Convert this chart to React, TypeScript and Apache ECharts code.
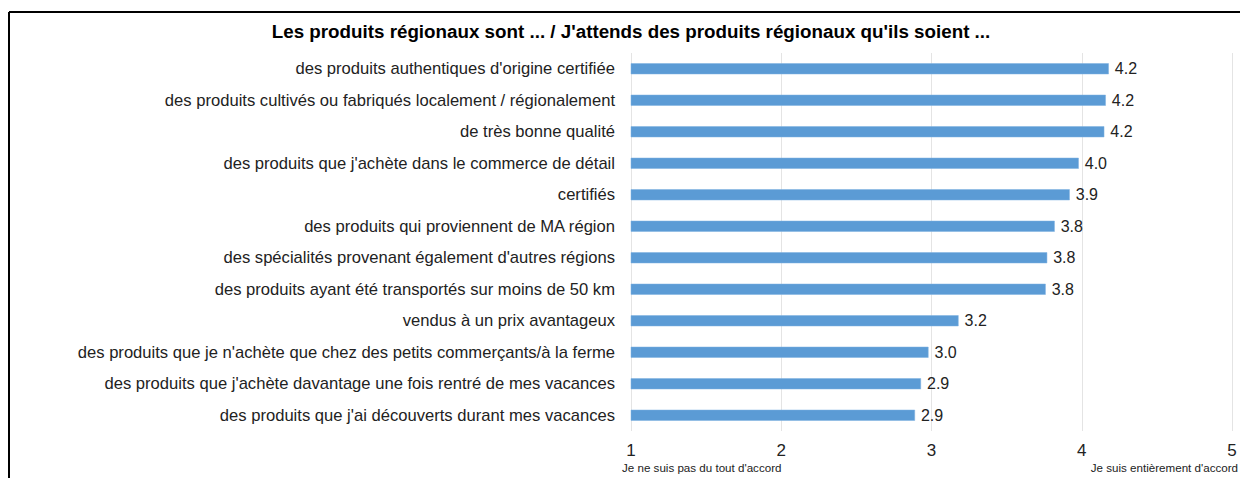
import React, { useEffect, useRef } from "react";
import * as echarts from "echarts";

const categories = [
  "des produits authentiques d'origine certifiée",
  "des produits cultivés ou fabriqués localement / régionalement",
  "de très bonne qualité",
  "des produits que j'achète dans le commerce de détail",
  "certifiés",
  "des produits qui proviennent de MA région",
  "des spécialités provenant également d'autres régions",
  "des produits ayant été transportés sur moins de 50 km",
  "vendus à un prix avantageux",
  "des produits que je n'achète que chez des petits commerçants/à la ferme",
  "des produits que j'achète davantage une fois rentré de mes vacances",
  "des produits que j'ai découverts durant mes vacances",
];

const values = [4.18, 4.16, 4.15, 3.98, 3.92, 3.82, 3.77, 3.76, 3.18, 2.98, 2.93, 2.89];

const tickValues = [1, 2, 3, 4, 5];
const title = "Les produits régionaux sont ... / J'attends des produits régionaux qu'ils soient ...";
const lowLabel = "Je ne suis pas du tout d'accord";
const highLabel = "Je suis entièrement d'accord";

const FONT = "'Liberation Sans', Arial, Helvetica, sans-serif";

export default function App() {
  const ref = useRef<HTMLDivElement>(null);
  useEffect(() => {
    document.body.style.margin = "0";
    if (!ref.current) return;
    const chart = echarts.init(ref.current, undefined, { renderer: "svg" });
    chart.setOption({
      animation: false,
      backgroundColor: "#ffffff",
      grid: { left: 631, right: 8, top: 53, bottom: 47, containLabel: false },
      xAxis: {
        type: "value",
        min: tickValues[0],
        max: tickValues[tickValues.length - 1],
        interval: 1,
        axisLine: { show: false },
        axisTick: { show: false },
        splitLine: { show: true, lineStyle: { color: "#e4e4e4", width: 1 } },
        axisLabel: {
          margin: 11,
          fontSize: 17,
          color: "#222222",
          fontFamily: FONT,
        },
      },
      yAxis: {
        type: "category",
        data: categories,
        inverse: true,
        axisLine: { show: false },
        axisTick: { show: false },
        splitLine: { show: false },
        axisLabel: {
          margin: 16,
          fontSize: 16.6,
          color: "#222222",
          fontFamily: FONT,
        },
      },
      series: [
        {
          type: "bar",
          data: values,
          barWidth: 11,
          itemStyle: { color: "#5B9BD5", borderColor: "#7fb1e0", borderWidth: 0.5 },
          label: {
            show: true,
            position: "right",
            distance: 6,
            fontSize: 16,
            color: "#222222",
            fontFamily: FONT,
            formatter: (p: any) => Number(p.value).toFixed(1),
          },
        },
      ],
      graphic: [
        {
          type: "line",
          shape: { x1: 9, y1: 12, x2: 1240, y2: 12 },
          style: { stroke: "#000000", lineWidth: 2 },
        },
        {
          type: "line",
          shape: { x1: 9, y1: 12, x2: 9, y2: 478 },
          style: { stroke: "#000000", lineWidth: 2 },
        },
        {
          type: "text",
          x: 631,
          y: 31,
          style: {
            text: title,
            fontSize: 18.8,
            fontWeight: "bold",
            fontFamily: FONT,
            fill: "#000000",
            textAlign: "center",
            textVerticalAlign: "middle",
          },
        },
        {
          type: "text",
          x: 622,
          y: 467,
          style: {
            text: lowLabel,
            fontSize: 11.6,
            fontFamily: FONT,
            fill: "#222222",
            textAlign: "left",
            textVerticalAlign: "middle",
          },
        },
        {
          type: "text",
          x: 1238,
          y: 467,
          style: {
            text: highLabel,
            fontSize: 11.6,
            fontFamily: FONT,
            fill: "#222222",
            textAlign: "right",
            textVerticalAlign: "middle",
          },
        },
      ],
    });
    return () => chart.dispose();
  }, []);
  return <div ref={ref} style={{ width: 1240, height: 478 }} />;
}
